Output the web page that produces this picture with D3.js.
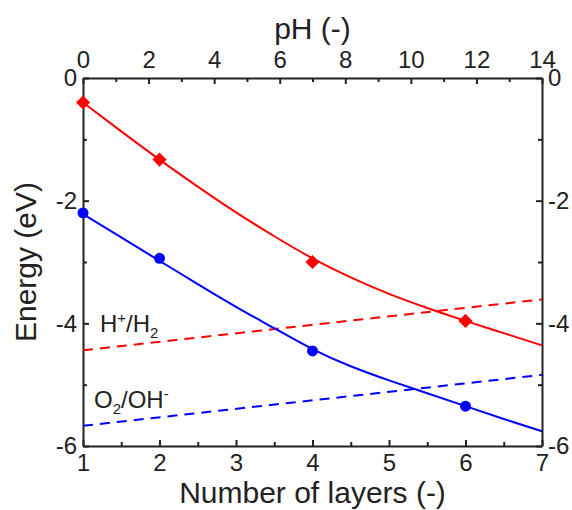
<!DOCTYPE html>
<html><head><meta charset="utf-8">
<script src="https://cdn.jsdelivr.net/npm/d3@7"></script>
<style>
html,body{margin:0;padding:0;background:#fff;}
svg text{font-family:"Liberation Sans",Arial,sans-serif;fill:#222;}
</style></head>
<body><svg id="c" width="572" height="510"></svg>
<script>
// ---- data ----
const layers = [1, 2, 4, 6];
const redEnergy = [-0.40, -1.33, -3.00, -3.96];
const blueEnergy = [-2.20, -2.94, -4.45, -5.35];
const fitLayers = [1, 1.5, 2, 2.5, 3, 3.5, 4, 4.5, 5, 5.5, 6, 6.5, 7];
const redFit = [-0.40, -0.87, -1.33, -1.77, -2.19, -2.58, -2.94, -3.25, -3.52, -3.75, -3.96, -4.16, -4.36];
const blueFit = [-2.22, -2.60, -2.98, -3.36, -3.73, -4.08, -4.42, -4.70, -4.93, -5.14, -5.35, -5.56, -5.76];
const pHEnds = [0, 14];
const hH2 = [-4.44, -3.61];
const o2OH = [-5.67, -4.84];
const layerTicks = [1, 2, 3, 4, 5, 6, 7];
const layerMinor = [1.5, 2.5, 3.5, 4.5, 5.5, 6.5];
const pHTicks = [0, 2, 4, 6, 8, 10, 12, 14];
const pHMinor = [1, 3, 5, 7, 9, 11, 13];
const eTicks = [0, -2, -4, -6];
const eMinor = [-1, -3, -5];

// ---- layout ----
const L = 83, R = 542, T = 78, B = 446;
const svg = d3.select("#c");
const x = d3.scaleLinear().domain([1, 7]).range([L, R]);
const xp = d3.scaleLinear().domain([0, 14]).range([L, R]);
const y = d3.scaleLinear().domain([-6, 0]).range([B, T]);
const fmt = d => d3.format("d")(d).replace("−", "-");

function styleAxis(g) {
  g.selectAll("path.domain").attr("stroke", "#222").attr("stroke-width", 2);
  g.selectAll(".tick line").attr("stroke", "#222").attr("stroke-width", 2);
  g.selectAll(".tick text").attr("font-size", 24).attr("fill", "#222")
    .style("font-family", '"Liberation Sans",Arial,sans-serif');
}
function minor(axisFn, scale, vals, tr) {
  const g = svg.append("g").attr("transform", tr)
    .call(axisFn(scale).tickValues(vals).tickSize(-4).tickFormat(""));
  g.select("path.domain").remove();
  g.selectAll(".tick line").attr("stroke", "#222").attr("stroke-width", 2);
}

// bottom
const gb = svg.append("g").attr("transform", `translate(0,${B})`)
  .call(d3.axisBottom(x).tickValues(layerTicks).tickSize(-6).tickSizeOuter(0).tickPadding(8).tickFormat(fmt));
styleAxis(gb);
minor(d3.axisBottom, x, layerMinor, `translate(0,${B})`);
// top
const gt = svg.append("g").attr("transform", `translate(0,${T})`)
  .call(d3.axisTop(xp).tickValues(pHTicks).tickSize(-6).tickSizeOuter(0).tickPadding(10).tickFormat(fmt));
styleAxis(gt);
minor(d3.axisTop, xp, pHMinor, `translate(0,${T})`);
// left
const gl = svg.append("g").attr("transform", `translate(${L},0)`)
  .call(d3.axisLeft(y).tickValues(eTicks).tickSize(-6).tickSizeOuter(0).tickPadding(6).tickFormat(fmt));
styleAxis(gl);
minor(d3.axisLeft, y, eMinor, `translate(${L},0)`);
// right
const gr = svg.append("g").attr("transform", `translate(${R},0)`)
  .call(d3.axisRight(y).tickValues(eTicks).tickSize(-6).tickSizeOuter(0).tickPadding(6).tickFormat(fmt));
styleAxis(gr);
minor(d3.axisRight, y, eMinor, `translate(${R},0)`);

// axis titles
svg.append("text").attr("x", (L + R) / 2).attr("y", 39).attr("text-anchor", "middle")
  .attr("font-size", 30).text("pH (-)");
svg.append("text").attr("x", (L + R) / 2).attr("y", 503).attr("text-anchor", "middle")
  .attr("font-size", 30).text("Number of layers (-)");
svg.append("text").attr("transform", `translate(36,${(T + B) / 2}) rotate(-90)`)
  .attr("text-anchor", "middle").attr("font-size", 30).text("Energy (eV)");

// dashed redox lines (pH scale)
const dline = d3.line().x((d, i) => xp(pHEnds[i])).y(d => y(d));
svg.append("path").datum(hH2).attr("d", dline).attr("fill", "none")
  .attr("stroke", "#ff0000").attr("stroke-width", 2).attr("stroke-dasharray", "10,7");
svg.append("path").datum(o2OH).attr("d", dline).attr("fill", "none")
  .attr("stroke", "#0000ff").attr("stroke-width", 2).attr("stroke-dasharray", "10,7");

// fit curves
const fline = d3.line().x((d, i) => x(fitLayers[i])).y(d => y(d)).curve(d3.curveNatural);
svg.append("path").datum(redFit).attr("d", fline).attr("fill", "none")
  .attr("stroke", "#ff0000").attr("stroke-width", 2);
svg.append("path").datum(blueFit).attr("d", fline).attr("fill", "none")
  .attr("stroke", "#0000ff").attr("stroke-width", 2);

// markers
svg.append("g").selectAll("path").data(redEnergy).join("path")
  .attr("d", d3.symbol(d3.symbolSquare, 100))
  .attr("transform", (d, i) => `translate(${x(layers[i])},${y(d)}) rotate(45)`)
  .attr("fill", "#ff0000");
svg.append("g").selectAll("circle").data(blueEnergy).join("circle")
  .attr("cx", (d, i) => x(layers[i])).attr("cy", d => y(d)).attr("r", 5.5)
  .attr("fill", "#0000ff");

// labels
const t1 = svg.append("text").attr("x", 100).attr("y", 332).attr("font-size", 24);
t1.append("tspan").text("H");
t1.append("tspan").attr("font-size", 15).attr("dy", -9).text("+");
t1.append("tspan").attr("dy", 9).text("/H");
t1.append("tspan").attr("font-size", 15).attr("dy", 6).text("2");
const t2 = svg.append("text").attr("x", 94).attr("y", 408).attr("font-size", 24);
t2.append("tspan").text("O");
t2.append("tspan").attr("font-size", 15).attr("dy", 6).text("2");
t2.append("tspan").attr("dy", -6).text("/OH");
t2.append("tspan").attr("font-size", 15).attr("dy", -9).text("-");
</script></body></html>
